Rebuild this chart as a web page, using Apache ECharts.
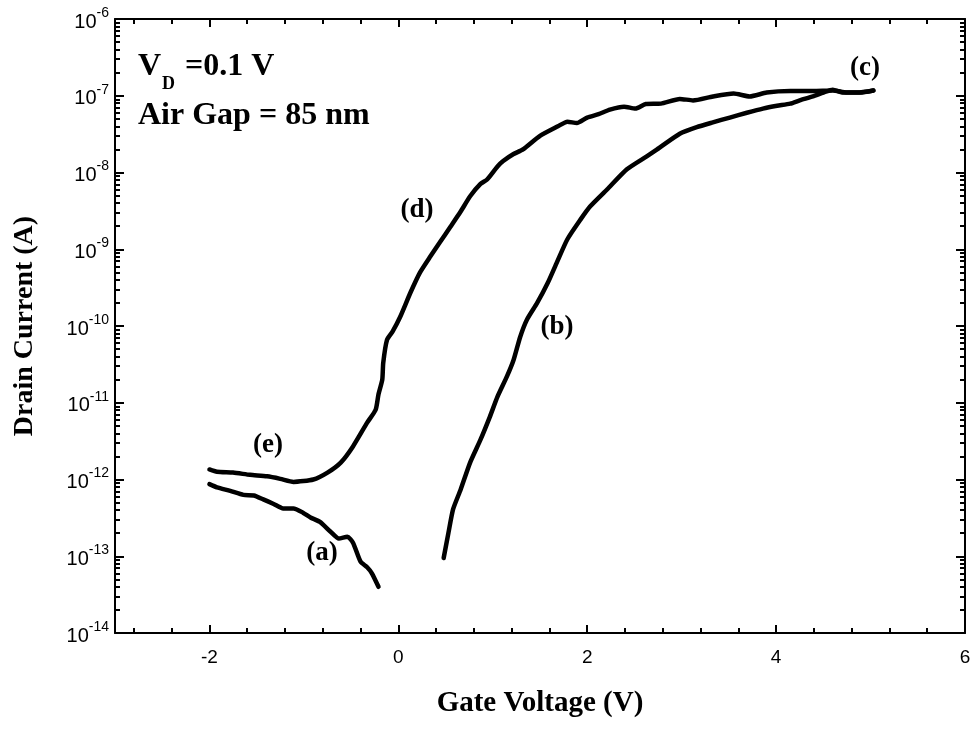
<!DOCTYPE html>
<html>
<head>
<meta charset="utf-8">
<script src="https://cdn.jsdelivr.net/npm/echarts@6/dist/echarts.min.js"></script>
<style>
  html, body { margin: 0; padding: 0; background: #fff; }
  #chart { width: 976px; height: 731px; }
</style>
</head>
<body>
<div id="chart"></div>
<script>
// curve (a): forward sweep, low voltage part
var gateA = [-2.0, -1.92, -1.78, -1.64, -1.53, -1.43, -1.32, -1.22, -1.11, -1.01, -0.93, -0.83, -0.72, -0.63, -0.54, -0.48, -0.40, -0.33, -0.28, -0.21];
var currentA = [8.7e-13, 7.9e-13, 7.1e-13, 6.3e-13, 6.2e-13, 5.5e-13, 4.8e-13, 4.2e-13, 4.2e-13, 3.7e-13, 3.2e-13, 2.8e-13, 2.1e-13, 1.7e-13, 1.8e-13, 1.5e-13, 8.5e-14, 7.2e-14, 6.0e-14, 4.0e-14];

// curve (b) -> (c): forward sweep, turn on
var gateB = [0.48, 0.53, 0.58, 0.66, 0.76, 0.87, 0.97, 1.05, 1.15, 1.22, 1.29, 1.36, 1.47, 1.58, 1.68, 1.79, 1.93, 2.03, 2.21, 2.42, 2.63, 2.74, 2.98, 3.16, 3.33, 3.51, 3.69, 3.86, 4.01, 4.15, 4.25, 4.39, 4.50, 4.60, 4.71, 4.86, 5.03];
var currentB = [9.5e-14, 2.0e-13, 4.1e-13, 7.4e-13, 1.66e-12, 3.3e-12, 6.6e-12, 1.2e-11, 2.2e-11, 3.6e-11, 7.2e-11, 1.2e-10, 2.0e-10, 3.6e-10, 6.8e-10, 1.35e-9, 2.45e-9, 3.6e-9, 6.0e-9, 1.1e-8, 1.62e-8, 2.0e-8, 3.2e-8, 3.9e-8, 4.5e-8, 5.2e-8, 6.0e-8, 6.8e-8, 7.4e-8, 7.9e-8, 8.7e-8, 9.8e-8, 1.1e-7, 1.2e-7, 1.1e-7, 1.1e-7, 1.17e-7];

// curve (c) -> (d) -> (e): reverse sweep
var gateD = [-2.0, -1.92, -1.75, -1.57, -1.39, -1.25, -1.11, -0.90, -0.75, -0.61, -0.48, -0.33, -0.24, -0.21, -0.17, -0.16, -0.12, -0.06, 0.02, 0.13, 0.23, 0.34, 0.44, 0.55, 0.66, 0.76, 0.87, 0.94, 1.05, 1.11, 1.22, 1.32, 1.50, 1.69, 1.79, 1.89, 2.00, 2.12, 2.24, 2.39, 2.51, 2.62, 2.78, 2.98, 3.12, 3.33, 3.55, 3.72, 3.90, 4.15, 4.39, 4.60, 4.75, 4.89, 5.03];
var currentD = [1.35e-12, 1.26e-12, 1.23e-12, 1.15e-12, 1.10e-12, 1.02e-12, 9.3e-13, 1.0e-12, 1.23e-12, 1.66e-12, 2.7e-12, 5.5e-12, 8.1e-12, 1.29e-11, 2.0e-11, 3.3e-11, 6.6e-11, 8.5e-11, 1.32e-10, 2.75e-10, 5.0e-10, 8.1e-10, 1.23e-9, 1.95e-9, 3.1e-9, 4.9e-9, 7.1e-9, 8.1e-9, 1.2e-8, 1.41e-8, 1.74e-8, 2.0e-8, 3.0e-8, 4.0e-8, 4.6e-8, 4.4e-8, 5.2e-8, 5.75e-8, 6.6e-8, 7.2e-8, 6.8e-8, 7.8e-8, 7.9e-8, 9.1e-8, 8.7e-8, 9.8e-8, 1.07e-7, 9.8e-8, 1.1e-7, 1.15e-7, 1.15e-7, 1.17e-7, 1.1e-7, 1.1e-7, 1.17e-7];

// axis ticks
var xMajorTicks = [-2, 0, 2, 4, 6];
var xMinorTicks = [-2.8, -2.4, -1.6, -1.2, -0.8, -0.4, 0.4, 0.8, 1.2, 1.6, 2.4, 2.8, 3.2, 3.6, 4.4, 4.8, 5.2, 5.6];
var yDecades = [-14, -13, -12, -11, -10, -9, -8, -7, -6];

var yMinorTicks = [];
for (var d = 0; d < yDecades.length - 1; d++) {
  for (var k = 2; k <= 9; k++) yMinorTicks.push(yDecades[d] + Math.log10(k));
}

function toData(xs, ys) {
  return xs.map(function (x, i) { return [x, Math.log10(ys[i])]; });
}

var serif = '"Liberation Serif", "Times New Roman", serif';
var sans = '"Liberation Sans", Arial, sans-serif';

var chart = echarts.init(document.getElementById('chart'));

function xAx(pos, ticks, len, main) {
  return {
    type: 'value', position: pos, min: -3, max: 6,
    axisLine: { show: main, onZero: false, lineStyle: { color: '#000', width: 2 } },
    axisTick: { show: true, inside: true, length: len, customValues: ticks, lineStyle: { color: '#000', width: 2 } },
    axisLabel: main && pos === 'bottom' ? {
      show: true, customValues: xMajorTicks, color: '#000', fontFamily: sans, fontSize: 19, margin: 15
    } : { show: false },
    splitLine: { show: false },
    name: main && pos === 'bottom' ? 'Gate Voltage (V)' : '',
    nameLocation: 'middle', nameGap: 56,
    nameTextStyle: { color: '#000', fontFamily: serif, fontWeight: 'bold', fontSize: 29 }
  };
}
function yAx(pos, ticks, len, main) {
  return {
    type: 'value', position: pos, min: -14, max: -6,
    axisLine: { show: main, onZero: false, lineStyle: { color: '#000', width: 2 } },
    axisTick: { show: true, inside: true, length: len, customValues: ticks, lineStyle: { color: '#000', width: 2 } },
    axisLabel: main && pos === 'left' ? {
      show: true, customValues: yDecades, margin: 6, fontSize: 20, fontFamily: sans, color: '#000',
      formatter: function (v) { return '{b|10}{s|' + v + '}'; },
      rich: {
        b: { color: '#000', fontFamily: sans, fontSize: 20, lineHeight: 26, verticalAlign: 'bottom' },
        s: { color: '#000', fontFamily: sans, fontSize: 14, lineHeight: 26, verticalAlign: 'top' }
      }
    } : { show: false },
    splitLine: { show: false },
    name: main && pos === 'left' ? 'Drain Current (A)' : '',
    nameLocation: 'middle', nameGap: 76,
    nameTextStyle: { color: '#000', fontFamily: serif, fontWeight: 'bold', fontSize: 28 }
  };
}

function curve(name, data) {
  return {
    name: name, type: 'line', data: data, showSymbol: false, smooth: 0.2,
    xAxisIndex: 0, yAxisIndex: 0,
    lineStyle: { color: '#000', width: 4.5, cap: 'round', join: 'round' }
  };
}

function label(text, x, y) {
  return {
    type: 'text', x: x, y: y,
    style: { text: text, font: 'bold 27px ' + serif, fill: '#000', align: 'center', verticalAlign: 'middle' }
  };
}

var option = {
  animation: false,
  grid: { left: 115, right: 11, top: 19, bottom: 98 },
  xAxis: [
    xAx('bottom', xMinorTicks, 5, true),
    xAx('bottom', xMajorTicks, 8, false),
    xAx('top', xMinorTicks, 5, true),
    xAx('top', xMajorTicks, 8, false)
  ],
  yAxis: [
    yAx('left', yMinorTicks, 5, true),
    yAx('left', yDecades, 9, false),
    yAx('right', yMinorTicks, 5, true),
    yAx('right', yDecades, 9, false)
  ],
  series: [
    curve('a', toData(gateA, currentA)),
    curve('b', toData(gateB, currentB)),
    curve('d', toData(gateD, currentD))
  ],
  graphic: [
    { type: 'text', x: 138, y: 67, style: { text: 'V', font: 'bold 32px ' + serif, fill: '#000', verticalAlign: 'middle' } },
    { type: 'text', x: 162, y: 84, style: { text: 'D', font: 'bold 18px ' + serif, fill: '#000', verticalAlign: 'middle' } },
    { type: 'text', x: 185, y: 67, style: { text: '=0.1 V', font: 'bold 32px ' + serif, fill: '#000', verticalAlign: 'middle' } },
    { type: 'text', x: 138, y: 116, style: { text: 'Air Gap = 85 nm', font: 'bold 32px ' + serif, fill: '#000', verticalAlign: 'middle' } },
    label('(c)', 865, 68),
    label('(d)', 417, 210),
    label('(b)', 557, 327),
    label('(e)', 268, 445),
    label('(a)', 322, 553)
  ]
};

chart.setOption(option);
</script>
</body>
</html>
